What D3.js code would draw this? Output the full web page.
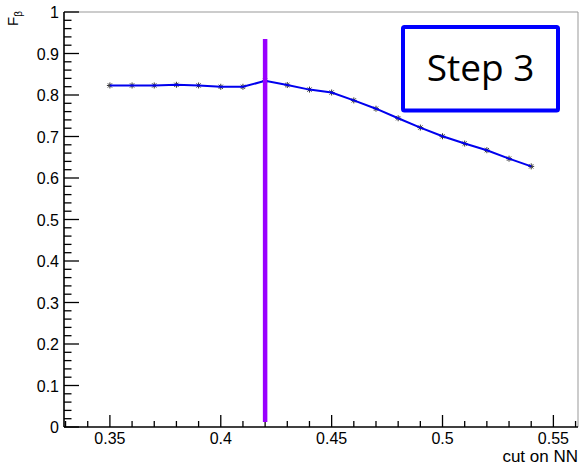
<!DOCTYPE html>
<html><head><meta charset="utf-8">
<script src="https://cdn.jsdelivr.net/npm/d3@7"></script>
<style>body{margin:0;background:#fff}svg{display:block}</style>
</head><body>
<script>
const cuts = [0.35,0.36,0.37,0.38,0.39,0.40,0.41,0.42,0.43,0.44,0.45,0.46,0.47,0.48,0.49,0.50,0.51,0.52,0.53,0.54];
const fbeta = [0.823,0.823,0.823,0.8246,0.823,0.8198,0.8198,0.834,0.8240,0.813,0.806,0.787,0.767,0.744,0.7215,0.7005,0.683,0.667,0.6466,0.628];
const bestCut = 0.42;
const bestLineRange = [0.012,0.935];
const xTicks = [0.35,0.4,0.45,0.5,0.55];
const yTicks = [0,0.1,0.2,0.3,0.4,0.5,0.6,0.7,0.8,0.9,1];
const xDomain = [0.3293,0.5611];
const yDomain = [0,1];
const labelText = "Step 3";
const xTitle = "cut on NN";

const W=580,H=465;
const L=64,R=578,T=12,B=427;
const svg=d3.select("body").append("svg").attr("width",W).attr("height",H);
const x=d3.scaleLinear().domain(xDomain).range([L,R]);
const y=d3.scaleLinear().domain(yDomain).range([B,T]);
const font="'Liberation Sans', Arial, Helvetica, sans-serif";

// frame top/right
svg.append("path").attr("d",`M${L},${T}H${R}V${B}`).attr("fill","none").attr("stroke","#999").attr("stroke-width",1);

// x minor ticks
const xMinor=d3.range(33,57).map(v=>v/100).filter(v=>v>=xDomain[0]&&v<=xDomain[1]);
svg.append("g").selectAll("line").data(xMinor).join("line")
  .attr("x1",d=>x(d)).attr("x2",d=>x(d)).attr("y1",B).attr("y2",d=>B-(Math.abs(d*20-Math.round(d*20))<1e-6?12:6))
  .attr("stroke","#000").attr("stroke-width",1.3);
svg.append("g").selectAll("text").data(xTicks).join("text")
  .attr("x",d=>x(d)).attr("y",444).attr("text-anchor","middle")
  .attr("font-family",font).attr("font-size",16).text(d=>d3.format("")(d));
// y ticks
const yMinor=d3.range(0,51).map(v=>v/50);
svg.append("g").selectAll("line").data(yMinor).join("line")
  .attr("y1",d=>y(d)).attr("y2",d=>y(d)).attr("x1",L).attr("x2",(d,i)=>L+(i%5===0?15:7.5))
  .attr("stroke","#000").attr("stroke-width",1.3);
svg.append("g").selectAll("text").data(yTicks).join("text")
  .attr("x",59).attr("y",d=>y(d)+6).attr("text-anchor","end")
  .attr("font-family",font).attr("font-size",16).text(d=>d3.format("")(d));
// axes lines
svg.append("line").attr("x1",L).attr("x2",L).attr("y1",T).attr("y2",B).attr("stroke","#000").attr("stroke-width",1.6);
svg.append("line").attr("x1",L).attr("x2",R).attr("y1",B).attr("y2",B).attr("stroke","#000").attr("stroke-width",1.6);

// titles
svg.append("text").attr("x",578).attr("y",462).attr("text-anchor","end")
  .attr("font-family",font).attr("font-size",17).text(xTitle);
const yt=svg.append("text").attr("transform","translate(18,11) rotate(-90)").attr("text-anchor","end")
  .attr("font-family",font).attr("font-size",15);
yt.append("tspan").text("F");
yt.append("tspan").attr("font-size",10).attr("dy",4).text("β");

// data line
const line=d3.line().x((d,i)=>x(cuts[i])).y(d=>y(d));
// markers
const mk=svg.append("g");
cuts.forEach((c,i)=>{
  const cx=x(c),cy=y(fbeta[i]),s=3;
  mk.append("path").attr("d",`M${cx-s},${cy}H${cx+s}M${cx},${cy-s}V${cy+s}M${cx-s*0.7},${cy-s*0.7}L${cx+s*0.7},${cy+s*0.7}M${cx-s*0.7},${cy+s*0.7}L${cx+s*0.7},${cy-s*0.7}`)
    .attr("stroke","#333").attr("stroke-width",1);
});
svg.append("path").datum(fbeta).attr("d",line).attr("fill","none").attr("stroke","#0000ee").attr("stroke-width",2);

// best cut line
svg.append("line").attr("x1",x(bestCut)).attr("x2",x(bestCut)).attr("y1",y(bestLineRange[0])).attr("y2",y(bestLineRange[1]))
  .attr("stroke","#9900ff").attr("stroke-width",4.5);

// label box
svg.append("rect").attr("x",403).attr("y",27).attr("width",155).attr("height",83.5).attr("rx",1.5)
  .attr("fill","#fff").attr("stroke","#0000ff").attr("stroke-width",4);
svg.append("text").attr("x",480.5).attr("y",81).attr("text-anchor","middle")
  .attr("font-family","'Open Sans', 'Noto Sans', sans-serif").attr("font-size",37).text(labelText);
</script>
</body></html>
